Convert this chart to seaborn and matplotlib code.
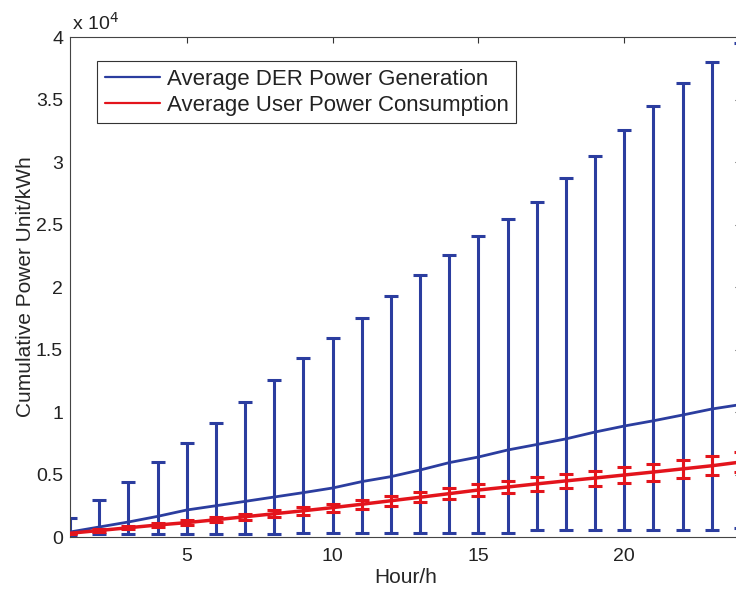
import seaborn as sns
import matplotlib.pyplot as plt
import matplotlib.ticker as mticker
import pandas as pd
import numpy as np

sns.set_style('white')
plt.rcParams['font.family'] = ['Liberation Sans', 'DejaVu Sans']
plt.rcParams['font.size'] = 14
plt.rcParams['text.color'] = '#222222'

hours = list(range(1, 25))
der_mean = [400, 800, 1200, 1650, 2160, 2500, 2850, 3200, 3550, 3920, 4430, 4830,
            5360, 5950, 6400, 6960, 7400, 7850, 8400, 8880, 9300, 9760, 10240, 10600]
der_upper = [1500, 2960, 4400, 6000, 7500, 9100, 10800, 12560, 14320, 15920, 17520, 19280,
             20960, 22560, 24080, 25440, 26800, 28720, 30480, 32560, 34480, 36320, 38000, 39520]
der_lower = [150, 240, 240, 240, 240, 240, 240, 260, 330, 350, 350, 350,
             350, 350, 350, 360, 560, 560, 560, 560, 560, 560, 560, 700]
user_mean = [300, 520, 740, 960, 1150, 1380, 1620, 1860, 2100, 2350, 2620, 2900,
             3180, 3470, 3760, 4000, 4250, 4490, 4720, 4960, 5200, 5450, 5700, 6000]
user_err = [60, 90, 120, 150, 180, 210, 240, 270, 300, 320, 350, 380,
            410, 440, 470, 500, 530, 560, 600, 640, 680, 720, 760, 800]

df = pd.DataFrame({'Hour': hours, 'DER': der_mean, 'User': user_mean})
blue = '#2b3d9f'
red = '#e3141c'

fig = plt.figure(figsize=(7.36, 5.97), dpi=100)
ax = fig.add_axes([0.0951, 0.1005, 0.9117, 0.8375])

dm = np.array(der_mean)
ax.errorbar(hours, der_mean, yerr=[dm - np.array(der_lower), np.array(der_upper) - dm],
            fmt='none', ecolor=blue, elinewidth=2.2, capsize=5, capthick=2.2, zorder=2)
sns.lineplot(data=df, x='Hour', y='DER', color=blue, linewidth=2,
             label='Average DER Power Generation', ax=ax, zorder=3)
ax.errorbar(hours, user_mean, yerr=user_err, fmt='none', ecolor=red,
            elinewidth=2.2, capsize=5, capthick=2.2, zorder=4)
sns.lineplot(data=df, x='Hour', y='User', color=red, linewidth=2.5,
             label='Average User Power Consumption', ax=ax, zorder=5)

ax.set_xlim(1, 24)
ax.set_ylim(0, 40000)
ax.set_xticks([5, 10, 15, 20])
ax.set_yticks(np.arange(0, 40001, 5000))
ax.yaxis.set_major_formatter(mticker.FuncFormatter(lambda v, p: '%g' % (v / 1e4)))
ax.tick_params(direction='in', top=True, right=True, length=4, width=0.8,
               labelsize=14, color='#333333', labelcolor='#222222')
ax.tick_params(axis='x', pad=8)
ax.tick_params(axis='y', pad=5)
for s in ax.spines.values():
    s.set_color('#444444')
    s.set_linewidth(0.8)

ax.text(0.003, 1.006, r'x 10$^4$', transform=ax.transAxes, fontsize=14, va='bottom')
ax.set_xlabel('Hour/h', fontsize=15, labelpad=2)
ax.set_ylabel('Cumulative Power Unit/kWh', fontsize=15)
ax.yaxis.set_label_coords(-0.052, 0.5)

leg = ax.legend(loc='upper left', bbox_to_anchor=(0.04, 0.952), fancybox=False,
                framealpha=1, edgecolor='#333333', fontsize=16, handlelength=2.5,
                borderpad=0.35, labelspacing=0.22, handletextpad=0.3, borderaxespad=0)
leg.get_frame().set_linewidth(0.8)
for ln in leg.get_lines():
    ln.set_linewidth(1.6)

fig.savefig('out.png', dpi=100)
